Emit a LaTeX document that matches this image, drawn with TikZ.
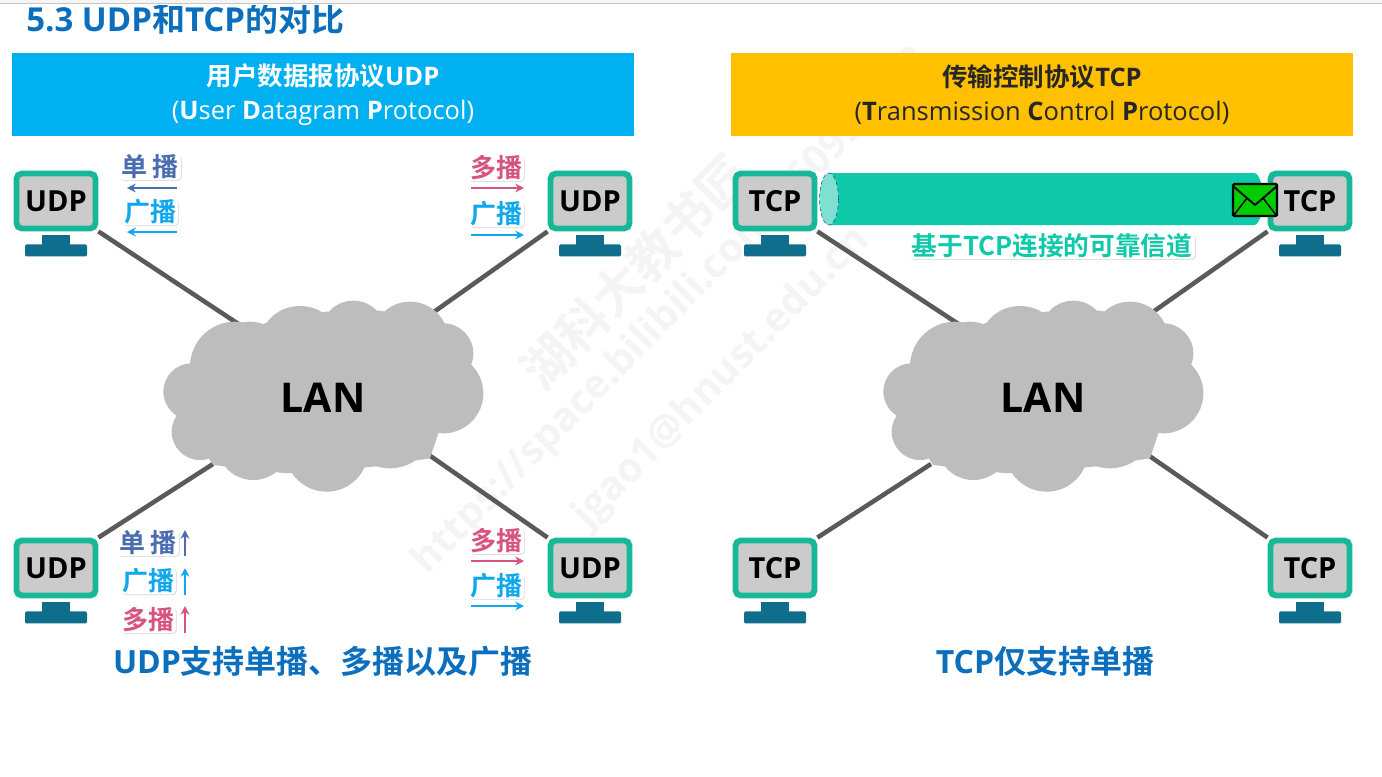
\documentclass[tikz,border=0pt]{standalone}
\usepackage{fontspec}
\usetikzlibrary{calc,arrows.meta,shadows}
\setmainfont{Open Sans}
\newfontfamily\cjk{Noto Sans CJK SC}[BoldFont={Noto Sans CJK SC Bold}]
\definecolor{titleblue}{HTML}{0B6FBE}
\definecolor{bannerblue}{HTML}{00B0F0}
\definecolor{banneryellow}{HTML}{FFC000}
\definecolor{monitorrim}{HTML}{17B897}
\definecolor{monitorface}{HTML}{CBCBCB}
\definecolor{standcol}{HTML}{0F6E8C}
\definecolor{wirecol}{HTML}{5A5A5A}
\definecolor{cloudcol}{HTML}{BDBDBD}
\definecolor{tubecol}{HTML}{0FC9A9}
\definecolor{tubeend}{HTML}{7FE0D0}
\definecolor{uniblue}{HTML}{4A6DB0}
\definecolor{broadblue}{HTML}{10A8EC}
\definecolor{multired}{HTML}{D6547F}
\definecolor{markgray}{HTML}{F4F4F4}
\definecolor{envgreen}{HTML}{00CC00}
% Font size given in pixels of the 0.75pt grid used by the picture
\newcommand{\sz}[1]{\fontsize{\dimexpr#1pt*3/4\relax}{\dimexpr#1pt*9/10\relax}\selectfont}
% The cloud: a polygon through its valleys plus overlapping lobes, in units of a third of a pixel
\newcommand{\cloudshape}[1]{%
  \begin{scope}[shift={#1}]
    \fill[cloudcol]
      (125,228) -- (350,97) -- (530,65) -- (690,62) -- (885,105) -- (965,235)
        -- (865,430) -- (840,505) -- (670,530) -- (410,550) -- (190,525) -- (80,370) -- cycle
      (255,230) circle [radius=135]
      (300,200) circle [radius=105]
      (125,305) circle [radius=85]
      (150,425) circle [radius=85]
      (310,460) circle [radius=110]
      (530,480) circle [radius=125]
      (720,400) circle [radius=135]
      (880,310) circle [radius=120]
      (880,190) circle [radius=90]
      (780,150) circle [radius=115]
      (610,130) circle [radius=98]
      (450,150) ellipse [x radius=115,y radius=102];
  \end{scope}}
\tikzset{
  banner/.style={minimum width=622*0.75pt,minimum height=83*0.75pt,inner sep=0pt,align=center,font=\bfseries\sz{25.5}},
  screen/.style={draw=monitorrim,fill=monitorface,line width=4.4pt,rounded corners=4pt,
    minimum width=79*0.75pt,minimum height=55*0.75pt,inner sep=0pt,font=\bfseries\sz{29},text=black},
  wire/.style={wirecol,line width=3.4pt},
  halo/.style={fill=white,rounded corners=3pt,drop shadow={shadow xshift=0.7pt,shadow yshift=-0.7pt,opacity=0.12,fill=black}},
  castlabel/.style={halo,font=\cjk\bfseries\sz{26},inner xsep=1.5pt,inner ysep=0.5pt},
  castarrow/.style={line width=1.9pt,-{Stealth[length=6.5pt,width=6.5pt]}},
  footer/.style={font=\bfseries\sz{32},text=titleblue,inner sep=0pt},
  lanlabel/.style={font=\bfseries\sz{41},text=black,inner sep=0pt},
  markfont/.style={text=markgray,rotate=45.5,inner sep=0pt}
}
% A monitor: screen node with its stand underneath
\newcommand{\monitor}[4]{%
  \node[screen] (#1) at (#2,#3) {#4};
  \fill[standcol] ($(#1.south)+(-14,4)$) rectangle ($(#1.south)+(14,14)$);
  \fill[standcol,rounded corners=1pt] ($(#1.south)+(-31,13)$) rectangle ($(#1.south)+(31,25)$);
}
\begin{document}
\begin{tikzpicture}[x=0.75pt,y=-0.75pt]
\useasboundingbox (0,0) rectangle (1382,776);
\fill[white] (0,0) rectangle (1382,776);
\fill[gray!8] (0,0) rectangle (1382,4);
\fill[gray!45] (0,3.4) rectangle (1382,4.4);

% Watermark running across the middle
\node[markfont,font=\cjk\bfseries\sz{50}] (mark1) at (635,272) {湖科大教书匠};
\node[markfont,font=\bfseries\sz{40}] (mark2) at (672,312) {https://space.bilibili.com/360996402};
\node[markfont,font=\bfseries\sz{40}] (mark3) at (722,378) {jgao1@hnust.edu.cn};

% Heading, cut by the upper edge
\begin{scope}
  \clip (0,5) rectangle (1382,776);
  \node[anchor=west,inner sep=0pt,font=\bfseries\sz{33},text=titleblue] (heading) at (26,19) {5.3 UDP{\cjk 和}TCP{\cjk 的对比}};
\end{scope}

% Banners
\node[banner,fill=bannerblue,text=white] (udpbanner) at (323,94.5)
  {{\cjk 用户数据报协议}UDP\\[3pt]{\mdseries(}U{\mdseries ser }D{\mdseries atagram }P{\mdseries rotocol)}};
\node[banner,fill=banneryellow,text=black!85] (tcpbanner) at (1042,94.5)
  {{\cjk 传输控制协议}TCP\\[3pt]{\mdseries(}T{\mdseries ransmission }C{\mdseries ontrol }P{\mdseries rotocol)}};

% Channel between the two upper TCP hosts
\fill[tubecol] (829,173) -- (1254,173) .. controls (1259,173) and (1263,185) .. (1263,199)
  .. controls (1263,213) and (1259,225) .. (1254,225) -- (829,225) -- cycle;
\fill[tubeend] (829,199) ellipse [x radius=9.5,y radius=26];
\draw[standcol!70!blue,densely dashed,line width=0.4pt] (829,199) ellipse [x radius=9.5,y radius=26];

% Hosts
\monitor{u1}{56}{201}{UDP}
\monitor{u2}{590}{201}{UDP}
\monitor{u3}{56}{568}{UDP}
\monitor{u4}{590}{568}{UDP}
\monitor{t1}{775}{201}{TCP}
\monitor{t2}{1310}{201}{TCP}
\monitor{t3}{775}{568}{TCP}
\monitor{t4}{1310}{568}{TCP}

% Points where the links meet the clouds
\coordinate (ca) at (240,325);
\coordinate (cb) at (431,314);
\coordinate (cc) at (213,464);
\coordinate (cd) at (429,455);
\coordinate (da) at (960,325);
\coordinate (db) at (1150,314);
\coordinate (dc) at (931,464);
\coordinate (dd) at (1148,455);

\draw[wire] (u1.south east) -- (ca);
\draw[wire] (u2.south west) -- (cb);
\draw[wire] (u3.north east) -- (cc);
\draw[wire] (u4.north west) -- (cd);
\draw[wire] (t1.south east) -- (da);
\draw[wire] (t2.south west) -- (db);
\draw[wire] (t3.north east) -- (dc);
\draw[wire] (t4.north west) -- (dd);

% Clouds
\begin{scope}[x=0.25pt,y=-0.25pt]
  \cloudshape{(150*3,290*3)}
  \cloudshape{(870*3,290*3)}
\end{scope}
\node[lanlabel] (lan1) at (323,398) {LAN};
\node[lanlabel] (lan2) at (1043,398) {LAN};

% Message on the channel
\draw[black,line width=1.7pt,fill=envgreen,rounded corners=1pt] (1233,184) rectangle (1277,216);
\draw[black,line width=1.4pt,line join=round] (1233,186) -- (1255,205) -- (1277,186);
\draw[black,line width=1.1pt] (1234,215) -- (1247,198) (1276,215) -- (1263,198);
\node[halo,font=\cjk\bfseries\sz{25.7},text=tubecol,inner xsep=2pt,inner ysep=0.5pt] (chan) at (1052,246) {基于TCP连接的可靠信道};

% Cast labels, upper left host
\node[castlabel,text=uniblue] (a1) at (150,167) {单 播};
\coordinate (a1s) at (177,188); \coordinate (a1e) at (127,188);
\draw[castarrow,uniblue] (a1s) -- (a1e);
\node[castlabel,text=broadblue] (a2) at (150,212) {广播};
\coordinate (a2s) at (177,232); \coordinate (a2e) at (127,232);
\draw[castarrow,broadblue] (a2s) -- (a2e);

% Upper right host
\node[castlabel,text=multired] (b1) at (496,168) {多播};
\coordinate (b1s) at (471,188); \coordinate (b1e) at (524,188);
\draw[castarrow,multired] (b1s) -- (b1e);
\node[castlabel,text=broadblue] (b2) at (496,214) {广播};
\coordinate (b2s) at (471,235); \coordinate (b2e) at (524,235);
\draw[castarrow,broadblue] (b2s) -- (b2e);

% Lower left host
\node[castlabel,text=uniblue] (c1) at (148,543) {单 播};
\coordinate (c1s) at (185,556); \coordinate (c1e) at (185,530);
\draw[castarrow,uniblue] (c1s) -- (c1e);
\node[castlabel,text=broadblue] (c2) at (148,581) {广播};
\coordinate (c2s) at (185,595); \coordinate (c2e) at (185,568);
\draw[castarrow,broadblue] (c2s) -- (c2e);
\node[castlabel,text=multired] (c3) at (148,620) {多播};
\coordinate (c3s) at (185,633); \coordinate (c3e) at (185,606);
\draw[castarrow,multired] (c3s) -- (c3e);

% Lower right host
\node[castlabel,text=multired] (d1) at (496,541) {多播};
\coordinate (d1s) at (471,561); \coordinate (d1e) at (524,561);
\draw[castarrow,multired] (d1s) -- (d1e);
\node[castlabel,text=broadblue] (d2) at (496,586) {广播};
\coordinate (d2s) at (471,606); \coordinate (d2e) at (524,606);
\draw[castarrow,broadblue] (d2s) -- (d2e);

% Captions under the two networks
\node[footer] (capu) at (323,661) {UDP{\cjk 支持单播、多播以及广播}};
\node[footer] (capt) at (1045,661) {TCP{\cjk 仅支持单播}};
\end{tikzpicture}
\end{document}
